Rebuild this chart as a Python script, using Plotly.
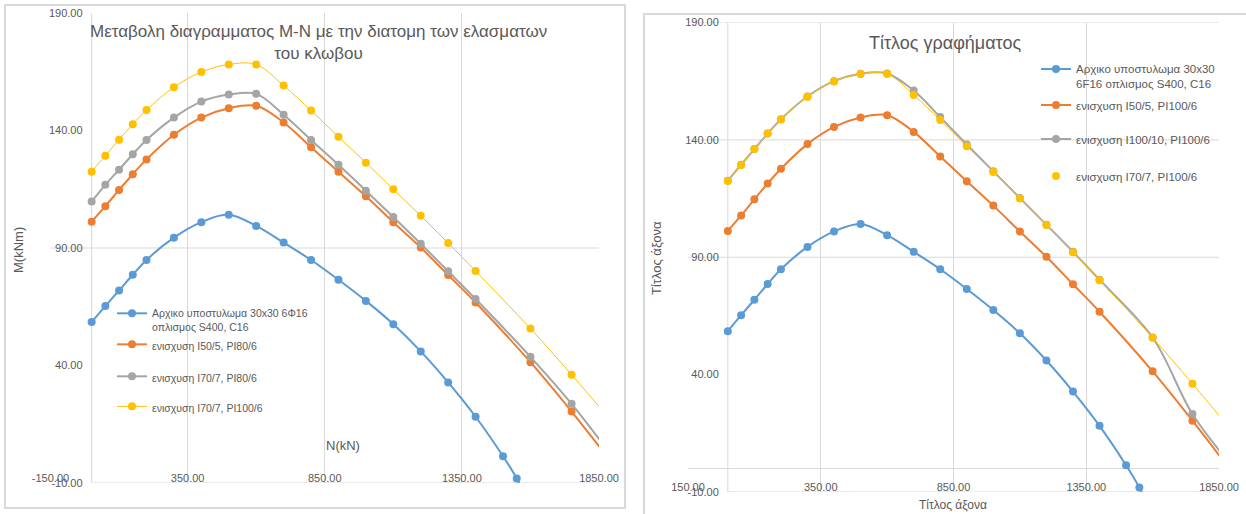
import plotly.graph_objects as go

W, H = 1246, 514

# ---------------- data ----------------
n_main = [0, 50, 100, 150, 200, 300, 400, 500, 600, 700, 800, 900, 1000, 1100, 1200, 1300, 1400]
n_blue_tail = [1500, 1550, 1600]
n_reinf_tail = [1600, 1750, 1900]

m_initial = [58.5, 65.3, 71.9, 78.6, 84.9, 94.4, 101.0, 104.2, 99.4, 92.3, 84.9, 76.5,
             67.5, 57.6, 46.0, 32.8, 18.2, 1.4, -8.1, -20.0]
m_i50 = [101.2, 107.8, 114.7, 121.4, 127.7, 138.2, 145.5, 149.5, 150.5, 143.4, 132.9, 122.4,
         112.0, 101.0, 90.2, 78.5, 66.8, 41.4, 20.4, -1.8]
m_i70_pi80 = [109.8, 116.9, 123.3, 129.9, 136.0, 145.5, 152.3, 155.3, 155.6, 146.7, 136.0, 125.4,
              114.4, 103.2, 91.8, 80.1, 68.3, 43.7, 23.7, 1.0]
m_i70_pi100 = [122.5, 129.3, 136.1, 142.7, 148.7, 158.4, 164.9, 168.1, 168.1, 159.1, 148.5, 137.3,
               126.3, 115.0, 103.7, 92.1, 80.2, 55.7, 36.1, 15.8]
m_i100_pi100 = [122.6, 129.4, 136.1, 142.7, 148.8, 158.5, 165.0, 168.2, 168.3, 161.0, 149.7, 138.0,
                126.6, 115.2, 103.8, 92.3, 80.4, 55.8, 23.2, 0.9]

names_left = ["Αρχικο υποστυλωμα 30x30 6Φ16<br>οπλισμος S400, C16",
              "ενισχυση I50/5, PI80/6",
              "ενισχυση I70/7, PI80/6",
              "ενισχυση I70/7, PI100/6"]
names_right = ["Αρχικο υποστυλωμα 30x30<br>6F16 οπλισμος S400, C16",
               "ενισχυση I50/5, PI100/6",
               "ενισχυση I100/10, PI100/6",
               "ενισχυση I70/7, PI100/6"]

x_tick_vals = [-150, 350, 850, 1350, 1850]
x_tick_text_left = ["-150.00", "350.00", "850.00", "1350.00", "1850.00"]
x_tick_text_right = ["150.00", "350.00", "850.00", "1350.00", "1850.00"]
y_tick_vals = [-10, 40, 90, 140, 190]
y_tick_text = ["-10.00", "40.00", "90.00", "140.00", "190.00"]
left_hgrid = [90]
right_hgrid = [90, 140, 190]

title_left = "Μεταβολη διαγραμματος Μ-Ν με την διατομη των ελασματων<br>του κλωβου"
title_right = "Τίτλος γραφήματος"
xlab_left, ylab_left = "N(kN)", "M(kNm)"
xlab_right, ylab_right = "Τίτλος άξονα", "Τίτλος άξονα"

# ---------------- styling ----------------
BLUE, ORANGE, GRAY, YELLOW = "#5B9BD5", "#ED7D31", "#A5A5A5", "#FFC000"
TXT = "#595959"
GRID = "#D9D9D9"
FONT = "Liberation Sans, Arial, sans-serif"
n_blue = n_main + n_blue_tail
n_reinf = n_main + n_reinf_tail


def px(x):
    return x / W


def py(y):
    return 1 - y / H


fig = go.Figure()


def add(xs, ys, name, color, width, xa, ya, legend, mode="lines+markers", showlegend=True):
    fig.add_trace(go.Scatter(
        x=xs, y=ys, name=name, mode=mode, xaxis=xa, yaxis=ya, legend=legend,
        showlegend=showlegend,
        line=dict(color=color, width=width, shape="spline", smoothing=1.0),
        marker=dict(color=color, size=8),
    ))


# left chart
add(n_blue, m_initial, names_left[0], BLUE, 2, "x", "y", "legend")
add(n_reinf, m_i50, names_left[1], ORANGE, 2, "x", "y", "legend2")
add(n_reinf, m_i70_pi80, names_left[2], GRAY, 2, "x", "y", "legend3")
add(n_reinf, m_i70_pi100, names_left[3], YELLOW, 1, "x", "y", "legend4")
# right chart
add(n_blue, m_initial, names_right[0], BLUE, 2, "x2", "y2", "legend5")
add(n_reinf, m_i50, names_right[1], ORANGE, 2, "x2", "y2", "legend6")
add(n_reinf, m_i100_pi100, names_right[2], GRAY, 2, "x2", "y2", "legend7")
add(n_reinf, m_i70_pi100, names_right[3], YELLOW, 1, "x2", "y2", "legend8", mode="lines", showlegend=False)
add(n_reinf, m_i70_pi100, names_right[3], YELLOW, 1, "x2", "y2", "legend8", mode="markers")

tickfont = dict(family=FONT, size=11, color=TXT)
xcommon = dict(range=[-150, 1850], tickvals=x_tick_vals, showgrid=True, gridcolor=GRID,
               gridwidth=1, zeroline=False, showline=False, ticks="", tickfont=tickfont,
               ticklabelstandoff=-13, fixedrange=True, automargin=False)
ycommon = dict(range=[-10, 190], tickvals=y_tick_vals, ticktext=y_tick_text, showgrid=False,
               zeroline=False, showline=False, ticks="", tickfont=tickfont, anchor="free",
               ticklabelstandoff=9, fixedrange=True, automargin=False)

layout = dict(
    width=W, height=H, margin=dict(l=0, r=0, t=0, b=0, autoexpand=False),
    paper_bgcolor="white", plot_bgcolor="white",
    xaxis=dict(domain=[px(50.5), px(599)], anchor="y", ticktext=x_tick_text_left, **xcommon),
    yaxis=dict(domain=[py(483), py(13)], position=px(91.6), **ycommon),
    xaxis2=dict(domain=[px(688), px(1219)], anchor="y2", ticktext=x_tick_text_right, **xcommon),
    yaxis2=dict(domain=[py(492), py(22.5)], position=px(727.8), **ycommon),
)

# legends: one per entry so each row sits where it does in the picture
left_rows = [300, 331, 363, 393]
right_rows = [55, 91, 125, 162]
for i, top in enumerate(left_rows):
    key = "legend" if i == 0 else f"legend{i + 1}"
    layout[key] = dict(x=px(112), y=py(top), xanchor="left", yanchor="top",
                       bgcolor="rgba(0,0,0,0)", borderwidth=0, valign="top",
                       font=dict(family=FONT, size=10.5, color=TXT))
for i, top in enumerate(right_rows):
    key = f"legend{i + 5}"
    layout[key] = dict(x=px(1036), y=py(top), xanchor="left", yanchor="top",
                       bgcolor="rgba(0,0,0,0)", borderwidth=0, valign="top",
                       font=dict(family=FONT, size=11.5, color=TXT))

fig.update_layout(**layout)

# frames of the two chart areas
fig.add_shape(type="rect", xref="paper", yref="paper", x0=px(5), x1=px(625), y0=py(508), y1=py(5),
              line=dict(color=GRID, width=2), layer="below")
fig.add_shape(type="rect", xref="paper", yref="paper", x0=px(644), x1=1.05, y0=-0.05, y1=py(14),
              line=dict(color=GRID, width=2), layer="below")


def hline(xref, yref, yv, x0, x1):
    fig.add_shape(type="line", xref=xref, yref=yref, x0=x0, x1=x1, y0=yv, y1=yv,
                  line=dict(color=GRID, width=1), layer="below")


def vline(xref, yref, xv, y0, y1):
    fig.add_shape(type="line", xref=xref, yref=yref, x0=xv, x1=xv, y0=y0, y1=y1,
                  line=dict(color=GRID, width=1), layer="below")


for g in left_hgrid:
    hline("x", "y", g, -150, 1850)
hline("x", "y", -10, 0, 1850)
vline("x", "y", 0, -10, 190)

for g in right_hgrid:
    hline("x2", "y2", g, -150, 1850)
hline("x2", "y2", 0, -150, 1850)
hline("x2", "y2", -10, 0, 1850)
vline("x2", "y2", 0, -10, 190)

# titles and axis titles
ann = []
ann.append(dict(text=title_left, x=px(318), y=py(42), xref="paper", yref="paper", showarrow=False,
                xanchor="center", yanchor="middle", font=dict(family=FONT, size=17, color=TXT)))
ann.append(dict(text=title_right, x=px(945), y=py(43), xref="paper", yref="paper", showarrow=False,
                xanchor="center", yanchor="middle", font=dict(family=FONT, size=18, color=TXT)))
ann.append(dict(text=xlab_left, x=px(343), y=py(445), xref="paper", yref="paper", showarrow=False,
                xanchor="center", yanchor="middle", font=dict(family=FONT, size=13, color=TXT)))
ann.append(dict(text=ylab_left, x=px(18), y=py(250), xref="paper", yref="paper", showarrow=False,
                textangle=-90, xanchor="center", yanchor="middle", font=dict(family=FONT, size=13, color=TXT)))
ann.append(dict(text=xlab_right, x=px(953), y=py(505), xref="paper", yref="paper", showarrow=False,
                xanchor="center", yanchor="middle", font=dict(family=FONT, size=12, color=TXT)))
ann.append(dict(text=ylab_right, x=px(656), y=py(258), xref="paper", yref="paper", showarrow=False,
                textangle=-90, xanchor="center", yanchor="middle", font=dict(family=FONT, size=13, color=TXT)))
fig.update_layout(annotations=ann)

# the page's default 8px body margin would shift the fixed-size figure; remove it
fig.write_html("out.html", config={"displayModeBar": False},
               post_script="document.body.style.margin='0px';")
